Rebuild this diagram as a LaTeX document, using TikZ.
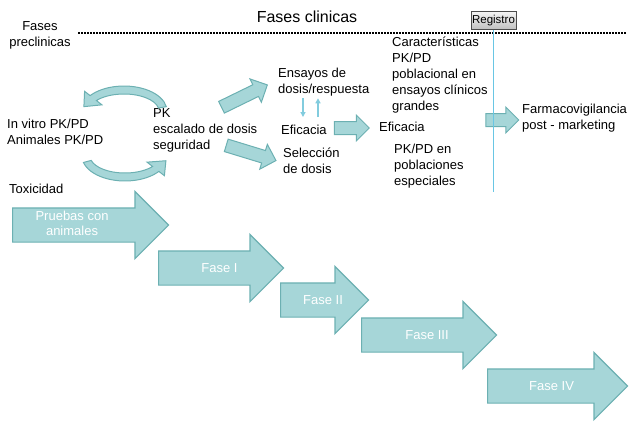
\documentclass[tikz,border=0pt]{standalone}
\usepackage{fontspec}
\setmainfont{Liberation Sans}
\usetikzlibrary{positioning,shapes.arrows,calc,arrows.meta}

\definecolor{phasefill}{RGB}{166,214,216}
\definecolor{phaseline}{RGB}{108,176,178}
\definecolor{regline}{RGB}{130,204,222}
\definecolor{regvert}{RGB}{105,198,228}

\tikzset{
  txt/.style={align=left, anchor=west, inner sep=0pt, font=\fontsize{13}{16}\selectfont},
  phase/.style={single arrow, draw=phaseline, fill=phasefill, line width=1.2pt,
    single arrow head extend=16.5pt, minimum width=66pt, inner xsep=1pt, inner ysep=1.5pt,
    anchor=tail, text=white, align=center, font=\fontsize{13}{15}\selectfont},
  phaseone/.style={phase, inner ysep=1pt, text height=20pt, text depth=11pt},
  bolt/.style={single arrow, draw=phaseline, fill=phasefill, line width=1pt,
    single arrow head extend=6.5pt, minimum width=25pt, inner xsep=0pt, inner ysep=6pt},
  smallarr/.style={draw=regline, line width=1.2pt, -{Triangle[width=5pt,length=5pt]}},
  looparc/.style={draw=phaseline, fill=phasefill, line width=1pt},
}
\newcommand{\padtext}[2]{\hspace*{#1}#2}

\begin{document}
\begin{tikzpicture}[x=1pt,y=-1pt]
\useasboundingbox (0,0) rectangle (630,424);
% header
\node[font=\fontsize{16}{19}\selectfont, inner sep=0pt] (clin) at (307,17) {Fases clinicas};
\node[txt, anchor=center, align=center] (precl) at (40,35) {Fases\\preclinicas};
\coordinate (dotl) at (78,33);
\coordinate (dotr) at (626,33);
\draw[dash pattern=on 1.5pt off 1.5pt, line width=1.5pt] (dotl) -- (dotr);
\node[draw=black!70, top color=black!4, bottom color=black!25, inner sep=1pt, minimum width=44pt, minimum height=18pt, font=\fontsize{11.5}{13}\selectfont] (reg) at (493.5,20.5) {Registro};
\coordinate (regend) at (493.5,192);

% texts
\node[txt] (invitro) at (7,131.5) {In vitro PK/PD\\Animales PK/PD};
\node[txt] (tox) at (9,189) {Toxicidad};
\node[txt] (pk) at (153,130.5) {PK\\escalado de dosis\\seguridad};
\node[txt] (ensayos) at (278,82) {Ensayos de\\dosis/respuesta};
\node[txt] (efic1) at (281,130) {Eficacia};
\node[txt] (selec) at (283,161) {Selección\\de dosis};
\node[txt] (efic2) at (379,127) {Eficacia};
\node[txt] (caract) at (392,75) {Características\\PK/PD\\poblacional en\\ensayos clínicos\\grandes};
\node[txt] (pobl) at (394,166) {PK/PD en\\poblaciones\\especiales};
\node[txt] (farma) at (522,118) {Farmacovigilancia\\post - marketing};

% curved arrows
\coordinate (upc) at (124,111);
\coordinate (loc) at (125,156);
\path[looparc] ($(upc)+(350:43 and 25)$) arc[start angle=350, end angle=218, x radius=43, y radius=25]
  -- ($(upc)+(218:50 and 32)$) -- ($(upc)+(192:41 and 21)$) -- ($(upc)+(218:28 and 10)$)
  -- ($(upc)+(218:35 and 17)$) arc[start angle=218, end angle=350, x radius=35, y radius=17] -- cycle;
\path[looparc] ($(loc)+(165:43 and 25)$) arc[start angle=165, end angle=38, x radius=43, y radius=25]
  -- ($(loc)+(38:50 and 32)$) -- ($(loc)+(13:42 and 21)$) -- ($(loc)+(38:28 and 10)$)
  -- ($(loc)+(38:35 and 17)$) arc[start angle=38, end angle=165, x radius=35, y radius=17] -- cycle;

% block arrows
\node[bolt, minimum height=51pt, rotate=26] (toens) at (241.5,97.5) {};
\node[bolt, minimum height=52pt, rotate=-17] (tosel) at (248,152) {};
\node[bolt, minimum height=35pt] (toefic) at (348.5,128) {};
\node[bolt, minimum height=33pt] (tofarma) at (499,120) {};
\draw[smallarr, shorten <=2pt, shorten >=8pt] ([xshift=25pt]ensayos.south west) -- ([xshift=22pt]efic1.north west);
\draw[smallarr, shorten <=8pt, shorten >=2pt] ([xshift=37pt]efic1.north west) -- ([xshift=40pt]ensayos.south west);
\draw[draw=regvert, line width=1.6pt] (reg.south) -- (regend);

% phases
\node[phase, minimum height=156pt] (animal) at (12,225) {\begin{tabular}{@{}c@{\hspace{20pt}}}Pruebas con\\animales\end{tabular}};
\node[phaseone, minimum height=125pt] (f1) at (158,268) {\padtext{14pt}{Fase I}};
\node[phaseone, minimum height=88pt] (f2) at (280,300) {\padtext{14pt}{Fase II}};
\node[phaseone, minimum height=135pt] (f3) at (361,335) {\padtext{13pt}{Fase III}};
\node[phaseone, minimum height=140pt] (f4) at (487,386) {\padtext{5pt}{Fase IV}};
\end{tikzpicture}
\end{document}
